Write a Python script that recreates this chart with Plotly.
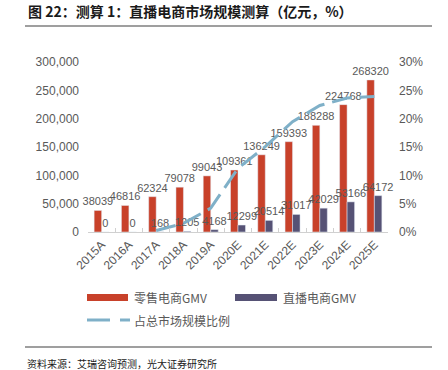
import plotly.graph_objects as go

categories = ["2015A", "2016A", "2017A", "2018A", "2019A", "2020E", "2021E", "2022E", "2023E", "2024E", "2025E"]
retail_gmv = [38039, 46816, 62324, 79078, 99043, 109361, 136249, 159393, 188288, 224768, 268320]
live_gmv = [0, 0, 168, 1205, 4168, 12299, 20514, 31017, 42029, 53166, 64172]
share = [None, None] + [l / r for l, r in zip(live_gmv[2:], retail_gmv[2:])]

RED = "#C8412A"
PURPLE = "#565275"
LINE = "#7FB0C8"
GRAY = "#595959"
LAT = "Liberation Sans, Arial, sans-serif"
CJK = "Noto Sans CJK SC, sans-serif"

W, H = 448, 370
L, R, T, B = 88, 60, 62, 138
PW, PH = W - L - R, H - T - B


def px(x):
    return (x - L) / PW


def py(y):
    return (H - B - y) / PH


fig = go.Figure()
fig.add_trace(go.Bar(
    x=categories, y=retail_gmv, name="零售电商GMV", marker_color=RED,
    text=[str(v) for v in retail_gmv], textposition="outside", textangle=0, constraintext="none",
    textfont=dict(size=11, color=GRAY, family=LAT), cliponaxis=False,
))
fig.add_trace(go.Bar(
    x=categories, y=live_gmv, name="直播电商GMV", marker_color=PURPLE,
    text=[str(v) for v in live_gmv], textposition="outside", textangle=0, constraintext="none",
    textfont=dict(size=11, color=GRAY, family=LAT), cliponaxis=False,
))
fig.add_trace(go.Scatter(
    x=categories, y=share, name="占总市场规模比例", yaxis="y2", mode="lines",
    line=dict(color=LINE, width=3, dash="20px,8px"), connectgaps=False,
))

shapes = [
    dict(type="line", xref="paper", yref="paper", x0=px(25), x1=px(432), y0=py(26), y1=py(26),
         line=dict(color="#7f7f7f", width=1.5)),
    dict(type="line", xref="paper", yref="paper", x0=px(25), x1=px(432), y0=py(347), y1=py(347),
         line=dict(color="#404040", width=1.2)),
    # custom legend
    dict(type="rect", xref="paper", yref="paper", x0=px(87), x1=px(128), y0=py(294), y1=py(301),
         fillcolor=RED, line=dict(width=0)),
    dict(type="rect", xref="paper", yref="paper", x0=px(235), x1=px(277), y0=py(294), y1=py(301),
         fillcolor=PURPLE, line=dict(width=0)),
    dict(type="line", xref="paper", yref="paper", x0=px(87), x1=px(110), y0=py(320), y1=py(320),
         line=dict(color=LINE, width=3)),
    dict(type="line", xref="paper", yref="paper", x0=px(120), x1=px(130), y0=py(320), y1=py(320),
         line=dict(color=LINE, width=3)),
]

annotations = [
    dict(text="<b>图 22：测算 1：直播电商市场规模测算（亿元，%）</b>", xref="paper", yref="paper",
         x=px(26), y=py(11), xanchor="left", yanchor="middle", showarrow=False,
         font=dict(size=14, color="#1a1a1a", family=CJK)),
    dict(text="资料来源：艾瑞咨询预测，光大证券研究所", xref="paper", yref="paper",
         x=px(25), y=py(363), xanchor="left", yanchor="middle", showarrow=False,
         font=dict(size=10, color="#1a1a1a", family=CJK)),
    dict(text="零售电商GMV", xref="paper", yref="paper", x=px(132), y=py(297), xanchor="left",
         yanchor="middle", showarrow=False, font=dict(size=12, color=GRAY, family=CJK)),
    dict(text="直播电商GMV", xref="paper", yref="paper", x=px(281), y=py(297), xanchor="left",
         yanchor="middle", showarrow=False, font=dict(size=12, color=GRAY, family=CJK)),
    dict(text="占总市场规模比例", xref="paper", yref="paper", x=px(132), y=py(320), xanchor="left",
         yanchor="middle", showarrow=False, font=dict(size=12, color=GRAY, family=CJK)),
]

fig.update_layout(
    width=W, height=H, margin=dict(l=L, r=R, t=T, b=B, pad=0),
    paper_bgcolor="white", plot_bgcolor="white",
    barmode="group", bargap=0.45, bargroupgap=0.0, showlegend=False,
    font=dict(family=LAT, color=GRAY),
    xaxis=dict(type="category", showgrid=False, showline=True, linecolor="#d0d0d0", linewidth=1,
               ticks="inside", tickson="boundaries", ticklen=4, tickcolor="#d0d0d0",
               tickangle=-45, tickfont=dict(size=12, color=GRAY, family=LAT), automargin=False),
    yaxis=dict(range=[0, 300000], dtick=50000, tickformat=",", showgrid=False, zeroline=False,
               showline=False, ticks="", ticklabelstandoff=8, automargin=False,
               tickfont=dict(size=12, color=GRAY, family=LAT)),
    yaxis2=dict(range=[0, 0.3], dtick=0.05, tickformat=".0%", overlaying="y", side="right",
                showgrid=False, zeroline=False, showline=False, ticks="", ticklabelstandoff=10,
                automargin=False, tickfont=dict(size=12, color=GRAY, family=LAT)),
    shapes=shapes, annotations=annotations,
)
fig.write_html("out.html", config={"displayModeBar": False},
               post_script="document.body.style.margin='0';document.body.style.padding='0';"
                           "document.body.style.overflow='hidden';")
